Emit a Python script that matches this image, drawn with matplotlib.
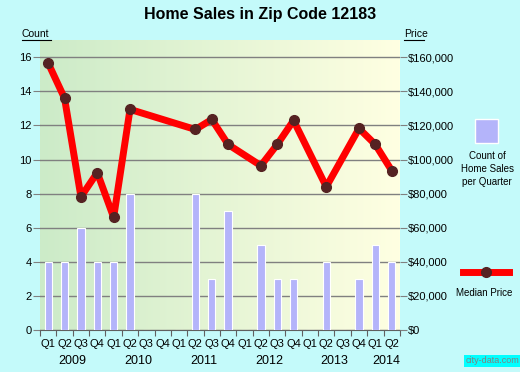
import numpy as np
import matplotlib.pyplot as plt
from matplotlib.ticker import FuncFormatter

plt.rcParams['font.family'] = ['Liberation Sans', 'DejaVu Sans']

# 季度标签
quarters = ['Q1', 'Q2', 'Q3', 'Q4'] * 5 + ['Q1', 'Q2']
years = ['2009', '2010', '2011', '2012', '2013', '2014']

# 每季度成交数量
counts = [4, 4, 6, 4, 4, 8, 0, 0, 0, 8, 3, 7, 0, 5, 3, 3, 0, 4, 0, 3, 5, 4]

# 中位价格（缺的季度跳过）
price_idx = [0, 1, 2, 3, 4, 5, 9, 10, 11, 13, 14, 15, 17, 19, 20, 21]
prices = [156500, 135900, 78100, 92300, 66000, 129400, 117600, 123500,
          108800, 96400, 108800, 122900, 84000, 118200, 108800, 93500]

bg = '#C4FAFA'
fig = plt.figure(figsize=(5.2, 3.72), dpi=100, facecolor=bg)
ax = fig.add_axes([0.077, 0.113, 0.692, 0.779])
ax.set_facecolor('none')

# 背景渐变 绿->浅黄
c1 = np.array([204, 235, 200]) / 255
c2 = np.array([255, 255, 226]) / 255
t = np.linspace(0, 1, 256)
grad = (c1[None, :] * (1 - t[:, None]) + c2[None, :] * t[:, None])[None, :, :]
ax.imshow(grad, extent=[0, 1, 0, 1], transform=ax.transAxes, aspect='auto', zorder=0)

x = np.arange(len(counts))
ax.bar(x, counts, width=0.45, color='#B4B4FA', edgecolor='white', linewidth=0.8, zorder=3)
ax.set_xlim(-0.5, len(counts) - 0.5)
ax.set_ylim(0, 17)
ax.set_yticks(range(0, 17, 2))
ax.yaxis.grid(True, color='#808080', lw=1, zorder=1)
ax.set_axisbelow(True)
for s in ax.spines.values():
    s.set_visible(False)
ax.spines['bottom'].set_visible(True)
ax.spines['bottom'].set_color('#606060')
ax.tick_params(axis='y', length=5, color='#808080', labelsize=8, pad=1)

# x轴刻度在季度之间，标签在中间
ax.set_xticks(np.arange(-0.5, len(counts), 1))
ax.set_xticklabels([])
ax.tick_params(axis='x', length=4, color='#606060')
for i, q in enumerate(quarters):
    ax.text(i, -0.03, q, transform=ax.get_xaxis_transform(), ha='center', va='top', fontsize=8)
year_pos = [1.5, 5.5, 9.5, 13.5, 17.5, 20.7]
for p, yr in zip(year_pos, years):
    ax.text(p, -0.088, yr, transform=ax.get_xaxis_transform(), ha='center', va='top', fontsize=9)

ax2 = ax.twinx()
ax2.set_ylim(0, 170000)
ax2.set_yticks(range(0, 170000, 20000))
ax2.yaxis.set_major_formatter(FuncFormatter(lambda v, p: '${:,.0f}'.format(v)))
for s in ax2.spines.values():
    s.set_visible(False)
ax2.tick_params(axis='y', length=5, color='#808080', labelsize=8, pad=1)
ax2.plot(price_idx, prices, color='red', lw=5, solid_joinstyle='round', solid_capstyle='round', zorder=4)
ax2.plot(price_idx, prices, 'o', color='#552222', ms=7, zorder=5)

fig.text(0.5, 0.96, 'Home Sales in Zip Code 12183', ha='center', va='center',
         fontsize=11.5, fontweight='bold')
fig.text(0.042, 0.908, 'Count', ha='left', va='center', fontsize=7.5)
fig.text(0.777, 0.908, 'Price', ha='left', va='center', fontsize=7.5)
fig.add_artist(plt.Line2D([0.042, 0.098], [0.893, 0.893], color='black', lw=0.8))
fig.add_artist(plt.Line2D([0.777, 0.816], [0.893, 0.893], color='black', lw=0.8))

# 图例
fig.patches.append(plt.Rectangle((0.913, 0.616), 0.044, 0.065, transform=fig.transFigure,
                                 facecolor='#B4B4FA', edgecolor='white', lw=1))
fig.text(0.937, 0.545, 'Count of\nHome Sales\nper Quarter', ha='center', va='center',
         fontsize=7, linespacing=1.35)
fig.add_artist(plt.Line2D([0.89, 0.978], [0.268, 0.268], color='red', lw=5))
fig.add_artist(plt.Line2D([0.934], [0.268], marker='o', color='#552222', ms=7))
fig.text(0.932, 0.212, 'Median Price', ha='center', va='center', fontsize=7)

fig.text(0.998, 0.018, 'city-data.com', ha='right', va='bottom', fontsize=6.5, color='#808080',
         bbox=dict(facecolor='#00FFFF', edgecolor='none', pad=1))

plt.savefig('out.png', dpi=100, facecolor=bg)
